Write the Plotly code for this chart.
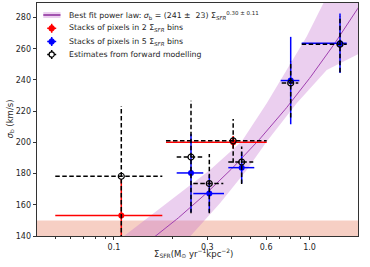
import numpy as np
import plotly.graph_objects as go

# ---------------- data ----------------
# Stacks of pixels in 2 SFR bins (red)
red_sfr = [0.109, 0.407]
red_sfr_lo = [0.0501, 0.1845]
red_sfr_hi = [0.1767, 0.604]
red_sigma = [153.2, 200.0]
red_sigma_err = [23, 4]

# Stacks of pixels in 5 SFR bins (blue)
blue_sfr = [0.2477, 0.3073, 0.4498, 0.8013, 1.432]
blue_sfr_lo = [0.2093, 0.2545, 0.3843, 0.7123, 0.912]
blue_sfr_hi = [0.2862, 0.3654, 0.5218, 0.887, 1.55]
blue_sigma = [180.4, 167.2, 183.8, 239.6, 263.5]
blue_sigma_err = [25, 12, 10, 28, 19]

# Estimates from forward modelling (black, dashed error bars)
black_sfr = [0.109, 0.2477, 0.3073, 0.407, 0.4498, 0.8013, 1.432]
black_sfr_lo = [0.0501, 0.2093, 0.2545, 0.1845, 0.3843, 0.7207, 0.912]
black_sfr_hi = [0.1767, 0.2862, 0.3624, 0.604, 0.5157, 0.8763, 1.55]
black_sigma = [178.3, 190.6, 173.6, 201.0, 187.4, 238.0, 262.9]
black_err_plus = [45, 36, 19, 14, 10, 14, 18]
black_err_minus = [45, 36, 19, 14, 14, 22, 18]

# Best-fit power law sigma_b = A * SFR^b
fit_A = 241.0
fit_b = 0.30

# Uncertainty band edges (last points lie beyond the frame)
band_hi_sfr = [0.1116, 0.186, 0.3097, 0.45, 0.6043, 0.7644, 0.9674, 1.177, 1.9]
band_hi_sigma = [139.6, 161.0, 182.3, 200.5, 225.1, 246.4, 267.8, 289.2, 310.0]
band_lo_sfr = [0.2446, 0.3484, 0.4772, 0.6043, 0.86, 1.2246, 1.8117, 1.9]
band_lo_sigma = [139.6, 161.0, 182.3, 200.5, 225.1, 246.4, 257.1, 259.5]

# Lower shaded region (resolution limit)
floor_lo = 140
floor_hi = 150

x_ticks = [0.1, 0.3, 0.6, 1.0]
x_ticktext = ["0.1", "0.3", "0.6", "1.0"]
x_minor = [0.05, 0.06, 0.07, 0.08, 0.09, 0.2, 0.4, 0.5, 0.7, 0.8, 0.9]
y_ticks = [140, 160, 180, 200, 220, 240, 260, 280]

legend_labels = [
    "Best fit power law: <i>σ</i><sub>b</sub> = (241 ±  23) Σ<sub><i>SFR</i></sub><sup>0.30 ± 0.11</sup>",
    "Stacks of pixels in 2 Σ<sub><i>SFR</i></sub> bins",
    "Stacks of pixels in 5 Σ<sub><i>SFR</i></sub> bins",
    "Estimates from forward modelling",
]

# ---------------- figure ----------------
FONT = "DejaVu Sans"
W, H = 370, 267
ML, MR, MT, MB = 37, 12, 3, 31
PW, PH = W - ML - MR, H - MT - MB


def PX(px):
    return (px - ML) / PW


def PY(py):
    return 1 - (py - MT) / PH


LINE_C = "#a040b0"
BAND_C = "rgba(195,110,205,0.33)"

fig = go.Figure()

# salmon floor band
fig.add_shape(type="rect", xref="paper", yref="y", x0=0, x1=1, y0=floor_lo, y1=floor_hi,
              fillcolor="rgba(232,130,100,0.38)", line=dict(width=0), layer="below")

# uncertainty band polygon
poly_x = list(band_lo_sfr) + list(band_hi_sfr[::-1])
poly_y = list(band_lo_sigma) + list(band_hi_sigma[::-1])
fig.add_trace(go.Scatter(x=poly_x, y=poly_y, mode="lines", fill="toself",
                         fillcolor=BAND_C, line=dict(width=0),
                         hoverinfo="skip", showlegend=False))

# best fit line
xs = np.logspace(-1.5, 0.4, 200)
fig.add_trace(go.Scatter(x=xs, y=fit_A * xs ** fit_b, mode="lines",
                         line=dict(color=LINE_C, width=1), showlegend=False))


def seg_traces(xc, yc, xlo, xhi, ep, em, color, dash, width):
    sx, sy = [], []
    for x, y, a, b, p, m in zip(xc, yc, xlo, xhi, ep, em):
        sx += [a, b, None, x, x, None]
        sy += [y, y, None, y - m, y + p, None]
    return go.Scatter(x=sx, y=sy, mode="lines", line=dict(color=color, width=width, dash=dash),
                      hoverinfo="skip", showlegend=False, connectgaps=False)


# red
fig.add_trace(seg_traces(red_sfr, red_sigma, red_sfr_lo, red_sfr_hi, red_sigma_err, red_sigma_err,
                         "#ff0000", "solid", 1.5))
fig.add_trace(go.Scatter(x=red_sfr, y=red_sigma, mode="markers", showlegend=False,
                         marker=dict(color="#ff0000", size=6, symbol="circle")))
# blue
fig.add_trace(seg_traces(blue_sfr, blue_sigma, blue_sfr_lo, blue_sfr_hi, blue_sigma_err, blue_sigma_err,
                         "#0000ff", "solid", 1.5))
fig.add_trace(go.Scatter(x=blue_sfr, y=blue_sigma, mode="markers", showlegend=False,
                         marker=dict(color="#0000ff", size=6, symbol="circle")))
# black
fig.add_trace(seg_traces(black_sfr, black_sigma, black_sfr_lo, black_sfr_hi, black_err_plus, black_err_minus,
                         "#000000", "4.5px,2.5px", 1.5))
fig.add_trace(go.Scatter(x=black_sfr, y=black_sigma, mode="markers", showlegend=False,
                         marker=dict(color="rgba(0,0,0,0)", size=6, symbol="circle",
                                     line=dict(color="#000000", width=1.2))))

# ---------------- hand-made legend (matplotlib-like compact spacing) ----------------
rows = [15, 28.3, 41.5, 54.5]
sym_x0, sym_x1, sym_xc, text_x = 43.3, 60.5, 51.7, 66.5
shapes = []
annotations = []
shapes.append(dict(type="rect", xref="paper", yref="paper", x0=PX(sym_x0), x1=PX(sym_x1),
                   y0=PY(rows[0] + 3), y1=PY(rows[0] - 3), fillcolor=BAND_C, line=dict(width=0)))
shapes.append(dict(type="line", xref="paper", yref="paper", x0=PX(sym_x0), x1=PX(sym_x1),
                   y0=PY(rows[0]), y1=PY(rows[0]), line=dict(color="#8a2a9a", width=1.5)))
for r, col, dash, filled in [(rows[1], "#ff0000", "solid", True), (rows[2], "#0000ff", "solid", True),
                             (rows[3], "#000000", "dot", False)]:
    shapes.append(dict(type="line", xref="paper", yref="paper", x0=PX(sym_xc - 4.5), x1=PX(sym_xc + 4.5),
                       y0=PY(r), y1=PY(r), line=dict(color=col, width=1.5, dash=dash)))
    shapes.append(dict(type="line", xref="paper", yref="paper", x0=PX(sym_xc), x1=PX(sym_xc),
                       y0=PY(r - 4.5), y1=PY(r + 4.5), line=dict(color=col, width=1.5, dash=dash)))
    shapes.append(dict(type="circle", xref="paper", yref="paper",
                       x0=PX(sym_xc - 2.6), x1=PX(sym_xc + 2.6), y0=PY(r + 2.6), y1=PY(r - 2.6),
                       fillcolor=col if filled else "white", line=dict(color=col, width=1.2)))
for r, lab in zip(rows, legend_labels):
    annotations.append(dict(text=lab, xref="paper", yref="paper", x=PX(text_x), y=PY(r),
                            xanchor="left", yanchor="middle", showarrow=False,
                            font=dict(size=7.8, color="#262626")))

annotations.append(dict(text="Σ<sub>SFR</sub>(M<sub>⊙</sub> yr<sup>−1</sup>kpc<sup>−2</sup>)",
                        xref="paper", yref="paper", x=PX(193), y=PY(253), xanchor="center",
                        yanchor="middle", showarrow=False, font=dict(size=8.5, color="#262626")))
annotations.append(dict(text="<i>σ</i><sub>b</sub> (km/s)", textangle=-90,
                        xref="paper", yref="paper", x=PX(10), y=0.5, xanchor="center",
                        yanchor="middle", showarrow=False, font=dict(size=8.5, color="#262626")))

fig.update_layout(
    width=W, height=H,
    margin=dict(l=ML, r=MR, t=MT, b=MB, autoexpand=False),
    paper_bgcolor="white", plot_bgcolor="white",
    font=dict(family=FONT, size=8, color="#262626"),
    showlegend=False,
    shapes=fig.layout.shapes + tuple(shapes),
    annotations=annotations,
)
fig.update_xaxes(type="log", range=[np.log10(0.0404), np.log10(1.77)],
                 tickvals=x_ticks, ticktext=x_ticktext, automargin=False,
                 ticks="outside", ticklen=3.5, tickwidth=0.8, tickcolor="#333",
                 tickfont=dict(size=8),
                 minor=dict(tickvals=x_minor, ticks="outside", ticklen=2, tickwidth=0.6, tickcolor="#333"),
                 showgrid=False, showline=True, linecolor="#333", linewidth=0.8, mirror=True,
                 zeroline=False)
fig.update_yaxes(range=[140, 289.3], tickvals=y_ticks, automargin=False,
                 ticks="outside", ticklen=3.5, tickwidth=0.8, tickcolor="#333",
                 tickfont=dict(size=8),
                 showgrid=False, showline=True, linecolor="#333", linewidth=0.8, mirror=True,
                 zeroline=False)

fig.write_html("out.html", config={"displayModeBar": False},
               post_script="document.body.style.margin='0px';")
